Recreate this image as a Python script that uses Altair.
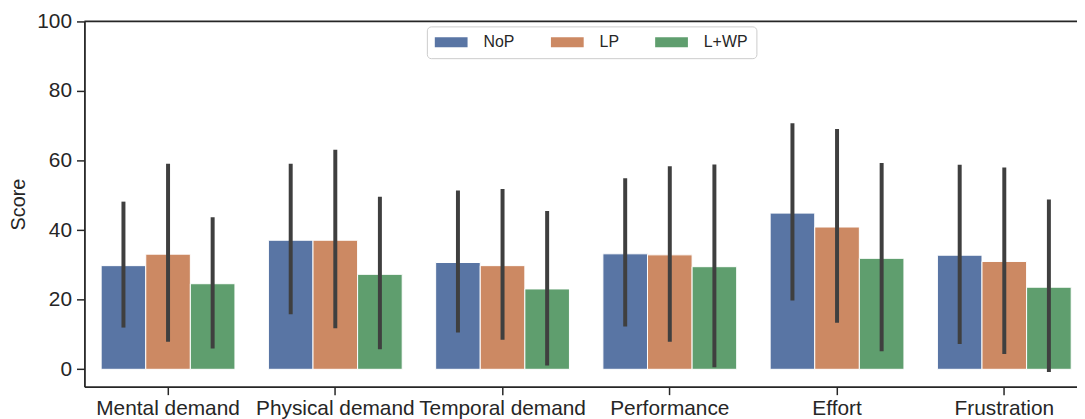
import altair as alt
import pandas as pd

categories = ["Mental demand", "Physical demand", "Temporal demand",
              "Performance", "Effort", "Frustration"]
groups = ["NoP", "LP", "L+WP"]
colors = ["#5975a4", "#cc8963", "#5f9e6e"]

mean_nop = [29.8, 37.1, 30.7, 33.2, 44.9, 32.8]
mean_lp = [33.1, 37.1, 29.8, 32.9, 40.9, 31.0]
mean_lwp = [24.6, 27.3, 23.1, 29.5, 31.9, 23.6]

low_nop = [12.0, 15.8, 10.6, 12.3, 19.8, 7.3]
high_nop = [48.2, 59.1, 51.4, 54.9, 70.7, 58.8]
low_lp = [7.9, 11.8, 8.5, 7.9, 13.4, 4.4]
high_lp = [59.1, 63.1, 51.8, 58.4, 69.1, 58.0]
low_lwp = [6.0, 5.8, 1.1, 0.6, 5.2, -0.8]
high_lwp = [43.7, 49.6, 45.5, 58.9, 59.3, 48.8]

rows = []
for g, m, lo, hi in zip(groups, [mean_nop, mean_lp, mean_lwp],
                        [low_nop, low_lp, low_lwp], [high_nop, high_lp, high_lwp]):
    for c, mv, lv, hv in zip(categories, m, lo, hi):
        rows.append({"task": c, "group": g, "mean": mv, "low": lv, "high": hv})
df = pd.DataFrame(rows)

FONT = "Liberation Sans"
DARK = "#262626"

x_enc = alt.X(
    "task:N", sort=categories,
    scale=alt.Scale(range=[0, 1011], paddingInner=0.2, paddingOuter=0.1),
    axis=alt.Axis(title=None, labelAngle=0, labelFontSize=21, labelFont=FONT,
                  labelColor=DARK, tickSize=8, tickWidth=1.5, tickColor=DARK,
                  domainColor=DARK, domainWidth=1.8, labelPadding=3),
)
xo_enc = alt.XOffset("group:N", sort=groups,
                     scale=alt.Scale(paddingInner=0, paddingOuter=0))
y_scale = alt.Scale(domain=[-5, 100], nice=False, zero=False)

bars = alt.Chart(df).mark_bar(stroke="white", strokeWidth=1).encode(
    x=x_enc,
    xOffset=xo_enc,
    y=alt.Y("mean:Q", scale=y_scale,
            axis=alt.Axis(values=[0, 20, 40, 60, 80, 100], title="Score",
                          titleFontSize=20, titleFont=FONT, titleFontWeight="normal",
                          titleColor=DARK, titlePadding=8,
                          labelFontSize=21, labelFont=FONT, labelColor=DARK,
                          tickSize=8, tickWidth=1.5, tickColor=DARK,
                          domainColor=DARK, domainWidth=1.8, labelPadding=5,
                          grid=False)),
    y2=alt.datum(0),
    color=alt.Color("group:N", sort=groups,
                    scale=alt.Scale(domain=groups, range=colors),
                    legend=alt.Legend(
                        title=None, orient="none", legendX=345, legendY=5,
                        direction="horizontal", columns=3, columnPadding=36,
                        labelOffset=33, labelFontSize=16, labelFont=FONT,
                        labelColor=DARK,
                        symbolType="M-1,-0.62H3.125V0.62H-1Z", symbolSize=256,
                        symbolStrokeWidth=0, symbolOpacity=1,
                        padding=8, strokeColor="#cccccc", fillColor="white",
                        cornerRadius=4)),
)

errs = alt.Chart(df).mark_rule(color="#3f3f3f", strokeWidth=4).encode(
    x=x_enc,
    xOffset=xo_enc,
    y=alt.Y("low:Q", scale=y_scale),
    y2="high:Q",
)

top = alt.Chart(pd.DataFrame({"v": [100]})).mark_rule(
    color=DARK, strokeWidth=1.8).encode(y=alt.Y("v:Q", scale=y_scale))

chart = alt.layer(bars, errs, top).properties(
    width=1000, height=368,
    autosize=alt.AutoSizeParams(type="none"),
    padding={"left": 77, "top": 12, "right": 0, "bottom": 31},
).configure_view(stroke=None)

chart.save("out.html", embed_options={"renderer": "svg", "actions": False})
